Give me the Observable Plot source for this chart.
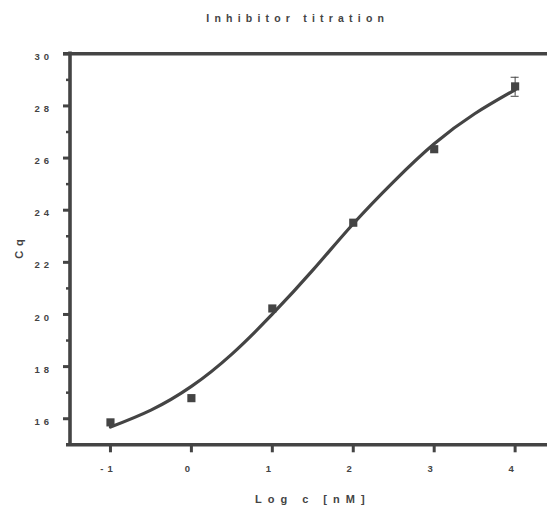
<!DOCTYPE html>
<html><head>
<meta charset="utf-8">
<script src="https://cdn.jsdelivr.net/npm/d3@7"></script>
<script src="https://cdn.jsdelivr.net/npm/@observablehq/plot@0.6"></script>
<style>
body{margin:0;background:#fff}
#chart svg{font-family:"Liberation Sans",Arial,sans-serif;}
</style>
</head><body><div id="chart"></div>
<script>
const title = "Inhibitor titration";
const xLabel = "Log c [nM]";
const yLabel = "Cq";
// measured points
const logConc = [-1, 0, 1, 2, 3, 4];
const cq = [15.86, 16.79, 20.23, 23.52, 26.34, 28.75];
// error bar (visible only at the last point)
const errX = [4];
const errLow = [28.37];
const errHigh = [29.10];
// fitted curve
const fitX = [-1, -0.5, 0, 0.5, 1, 1.5, 2, 2.5, 3, 3.5, 4];
const fitY = [15.68, 16.33, 17.24, 18.48, 20.01, 21.70, 23.48, 25.10, 26.55, 27.70, 28.62];
// axes
const xDomain = [-1.5, 4.4];
const yDomain = [15, 30];
const xTicks = [-1, 0, 1, 2, 3, 4];
const yMajorTicks = [16, 18, 20, 22, 24, 26, 28, 30];
const yMinorTicks = [17, 19, 21, 23, 25, 27, 29];

const C = "#444";
const points = logConc.map((x, i) => ({x, y: cq[i]}));
const fit = fitX.map((x, i) => ({x, y: fitY[i]}));
const errs = errX.map((x, i) => ({x, lo: errLow[i], hi: errHigh[i]}));
const caps = errs.flatMap(d => [{x: d.x, y: d.lo}, {x: d.x, y: d.hi}]);
const x0 = xDomain[0], yBottom = yDomain[0], yTop = yDomain[1];

const fmt = d => (d < 0 ? "-" + Math.abs(d) : String(d));

const svg = Plot.plot({
  width: 547,
  height: 508,
  marginLeft: 69.5,
  marginRight: 0,
  marginTop: 53.3,
  marginBottom: 63.7,
  x: {domain: xDomain, axis: null},
  y: {domain: yDomain, axis: null},
  marks: [
    // frame lines
    Plot.ruleY([yTop], {stroke: C, strokeWidth: 3.6, insetLeft: -6.5}),
    Plot.ruleY([yBottom], {stroke: C, strokeWidth: 3.6, insetLeft: -3.5}),
    Plot.ruleX([x0], {stroke: C, strokeWidth: 3.6, insetTop: -1.8, insetBottom: -1.8}),
    // y ticks
    Plot.ruleY(yMajorTicks, {x1: x0, x2: x0, insetLeft: -6.5, stroke: C, strokeWidth: 3}),
    Plot.ruleY(yMinorTicks, {x1: x0, x2: x0, insetLeft: -3.5, stroke: C, strokeWidth: 2.5}),
    // x ticks
    Plot.ruleX(xTicks, {y1: yBottom, y2: yBottom, insetBottom: -8, stroke: C, strokeWidth: 3}),
    // tick labels
    Plot.text(yMajorTicks, {y: d => d, text: fmt, frameAnchor: "left", textAnchor: "end", dx: -17, dy: 3,
      fill: C, fontSize: 9.5, fontWeight: "bold"}),
    Plot.text(xTicks, {x: d => d, text: fmt, frameAnchor: "bottom", dy: 27, fill: C, fontSize: 9.5,
      fontWeight: "bold", dx: -2}),
    // error bar
    Plot.ruleX(errs, {x: "x", y1: "lo", y2: "hi", stroke: C, strokeWidth: 1}),
    Plot.ruleY(caps, {y: "y", x1: "x", x2: "x", insetLeft: -4, insetRight: -4, stroke: C, strokeWidth: 1}),
    // fit curve
    Plot.line(fit, {x: "x", y: "y", curve: "natural", stroke: C, strokeWidth: 3.2}),
    // points
    Plot.dot(points, {x: "x", y: "y", symbol: "square", r: 4.6, fill: C, stroke: "none"}),
    // titles
    Plot.text([title], {frameAnchor: "top", dy: -39, dx: -11, fill: C, fontSize: 10.5, fontWeight: "bold"}),
    Plot.text([xLabel], {frameAnchor: "bottom", dy: 58, dx: 4, fill: C, fontSize: 11, fontWeight: "bold"}),
  ]
});

const root = d3.select(svg);
root.selectAll("text").each(function() {
  const t = this.textContent;
  let s = "4px";
  if (t === title) s = "5.2px";
  else if (t === xLabel) s = "6px";
  this.setAttribute("letter-spacing", s);
});
// y-axis title, rotated; letters spaced with tspans
const yt = root.append("text")
  .attr("transform", "translate(23,249) rotate(-90)")
  .attr("text-anchor", "middle")
  .attr("fill", C)
  .attr("font-size", 11)
  .attr("font-weight", "bold");
yt.selectAll("tspan").data(yLabel.split("")).join("tspan")
  .attr("dx", (d, i) => (i ? 5 : 0))
  .text(d => d);
document.getElementById("chart").append(svg);
</script>
</body></html>
